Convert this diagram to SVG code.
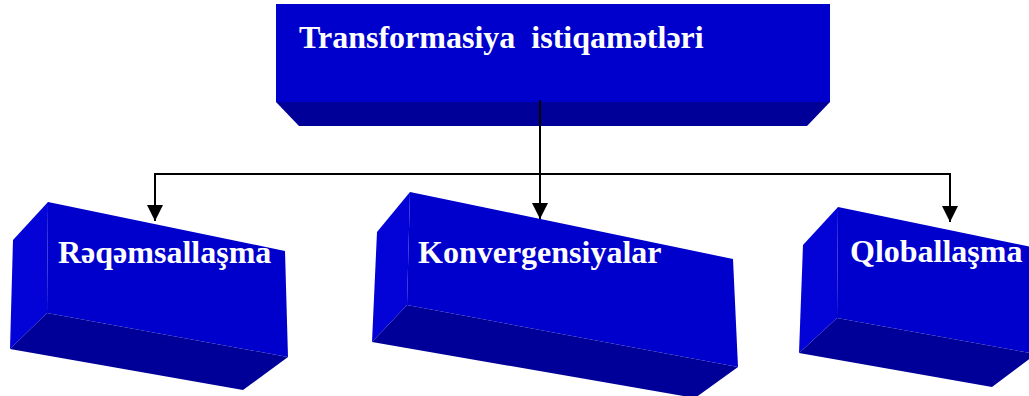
<svg xmlns="http://www.w3.org/2000/svg" width="1029" height="396" viewBox="0 0 1029 396">
<style>
.front{fill:#0000CC}
.side{fill:#0303D8}
.bottom{fill:#000099}
.lbl{font-family:"Liberation Serif","Times New Roman",serif;font-weight:bold;font-size:32px;fill:#FFFFFF}
.conn{fill:none;stroke:#000000;stroke-width:2}
</style>
<defs>
<marker id="ah" markerWidth="16" markerHeight="16" refX="16" refY="8" orient="auto" markerUnits="userSpaceOnUse" viewBox="0 0 16 16">
<path d="M0,0 L16,8 L0,16 Z" fill="#000000"/>
</marker>
</defs>
<rect width="1029" height="396" fill="#FFFFFF"/>
<g id="node-top">
<rect class="front" x="276" y="4" width="554" height="98"/>
<polygon class="bottom" points="276,102 830,102 807,126 299,126"/>
<text class="lbl" x="299" y="48" xml:space="preserve">Transformasiya  istiqamətləri</text>
</g>
<g id="node-reqemsallasma">
<polygon class="side" points="13,240 48,202 47,313 10,349"/>
<polygon class="front" points="48,202 285,251 288,357 47,313"/>
<polygon class="bottom" points="47,313 288,357 243,390 10,349"/>
<text class="lbl" x="58" y="263">Rəqəmsallaşma</text>
</g>
<g id="node-konvergensiyalar">
<polygon class="side" points="377,232 410,192 407,305 372,342"/>
<polygon class="front" points="410,192 733,259 738,367 407,305"/>
<polygon class="bottom" points="407,305 738,367 695,398 372,342"/>
<text class="lbl" x="418" y="263">Konvergensiyalar</text>
</g>
<g id="node-qloballasma">
<polygon class="side" points="803,245 838,207 837,318 799,353"/>
<polygon class="front" points="838,207 1036,248 1036,354 837,318"/>
<polygon class="bottom" points="837,318 1036,354 992,387 799,353"/>
<text class="lbl" x="850" y="262">Qloballaşma</text>
</g>
<g id="connectors">
<path class="conn" d="M540,100 V174"/>
<path class="conn" d="M155,174 H950"/>
<path class="conn" d="M155,173 V221" marker-end="url(#ah)"/>
<path class="conn" d="M540,174 V219" marker-end="url(#ah)"/>
<path class="conn" d="M950,173 V222" marker-end="url(#ah)"/>
</g>
</svg>
